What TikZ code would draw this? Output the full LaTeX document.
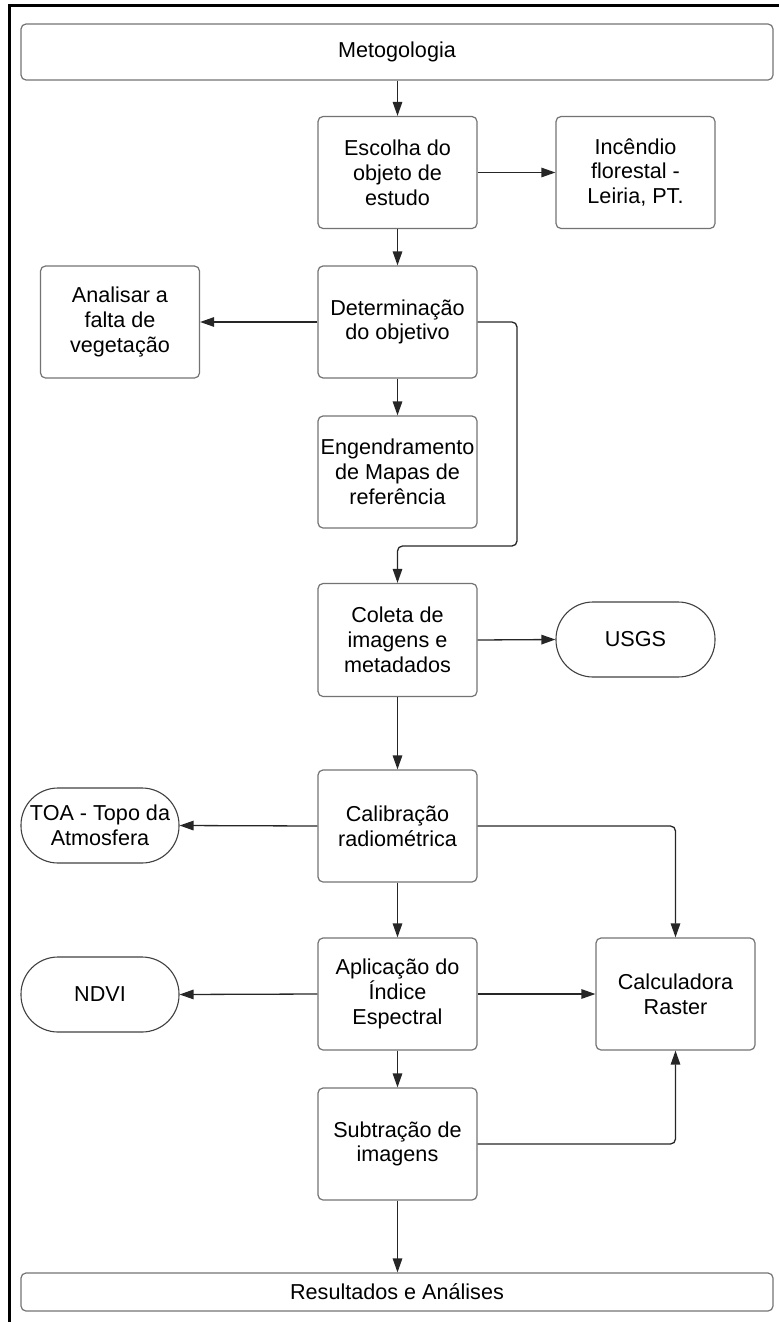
\documentclass[tikz,border=0pt]{standalone}
\usepackage{fontspec}
\setmainfont{Liberation Sans}
\usetikzlibrary{arrows.meta}
\begin{document}
\begin{tikzpicture}[x=1pt,y=-1pt,
  every node/.style={font=\fontsize{21.6}{24.8}\selectfont, align=center, inner sep=0pt},
  box/.style={draw=black!55, line width=1.2pt, rounded corners=5pt, minimum width=159pt, minimum height=112pt},
  wide/.style={draw=black!55, line width=1.2pt, rounded corners=5pt, minimum width=752pt},
  term/.style={draw=black!75, line width=1.1pt, rounded corners=37pt, minimum width=158pt, minimum height=75pt},
  conn/.style={draw=black!85, line width=1.3pt, -{Triangle[length=14pt,width=9.5pt]}},
  plain/.style={draw=black!85, line width=1.3pt}]
\useasboundingbox (0,0) rectangle (779,1322);
% outer frame (partial)
\draw[line width=3pt] (9,1322) -- (9,6) -- (779,6);

\node[wide, minimum height=56pt] (meto) at (397,52) {Metogologia};
\node[box] (escolha) at (397.5,172.5) {Escolha do\\objeto de\\estudo};
\node[box] (incendio) at (635.5,172.5) {Incêndio\\florestal -\\Leiria, PT.};
\node[box] (determ) at (397.5,322) {Determinação\\do objetivo};
\node[box] (analisar) at (120,322) {Analisar a\\falta de\\vegetação};
\node[box] (engend) at (397.5,472) {Engendramento\\de Mapas de\\referência};
\node[box, minimum height=113pt] (coleta) at (397.5,640) {Coleta de\\imagens e\\metadados};
\node[term, minimum width=159pt] (usgs) at (635.5,639.5) {USGS};
\node[box] (calib) at (397.5,826) {Calibração\\radiométrica};
\node[term] (toa) at (100,825.5) {TOA - Topo da\\Atmosfera};
\node[box] (aplic) at (397.5,994) {Aplicação do\\Índice\\Espectral};
\node[term] (ndvi) at (100,994.5) {NDVI};
\node[box] (calc) at (675.5,994) {Calculadora\\Raster};
\node[box] (subtr) at (397.5,1144) {Subtração de\\imagens};
\node[wide, minimum height=38pt] (result) at (397,1292) {Resultados e Análises};

\draw[conn] (meto.south -| escolha) -- (escolha.north);
\draw[conn] (escolha.east) -- (incendio.west);
\draw[conn] (escolha.south) -- (determ.north);
\draw[conn] (determ.west) -- (analisar.east);
\draw[conn] (determ.south) -- (engend.north);
\coordinate (loopA) at (517,322);
\coordinate (loopB) at (517,546);
\draw[conn, rounded corners=5pt] (determ.east) -- (loopA) -- (loopB) -- (loopB -| coleta) -- (coleta.north);
\draw[conn] (coleta.east) -- (usgs.west);
\draw[conn] (coleta.south) -- (calib.north);
\draw[conn] (calib.west) -- (toa.east);
\draw[conn, rounded corners=5pt] (calib.east) -- (calib.east -| calc.north) -- (calc.north);
\draw[conn] (calib.south) -- (aplic.north);
\draw[conn] (aplic.west) -- (ndvi.east);
\draw[conn] (aplic.east) -- (calc.west);
\draw[conn] (aplic.south) -- (subtr.north);
\draw[conn, rounded corners=5pt] (subtr.east) -- (subtr.east -| calc.south) -- (calc.south);
\draw[conn] (subtr.south) -- (result.north -| subtr);
\end{tikzpicture}
\end{document}
